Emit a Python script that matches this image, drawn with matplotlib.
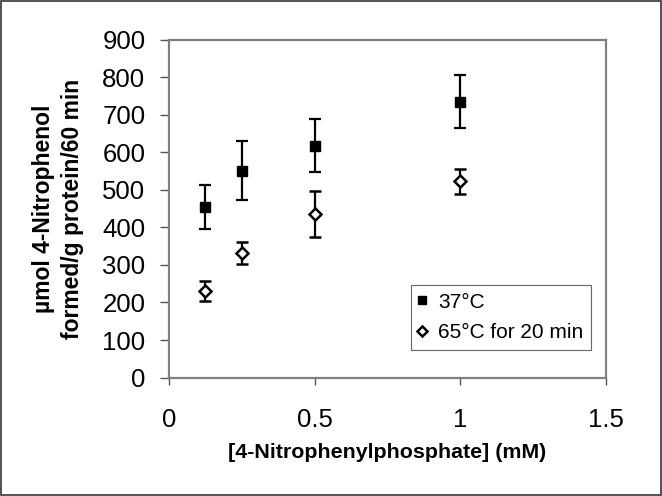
import matplotlib
matplotlib.use("Agg")
import matplotlib.pyplot as plt
from matplotlib.patches import Rectangle

plt.rcParams['font.family'] = ['Liberation Sans', 'DejaVu Sans']

conc = [0.125, 0.25, 0.5, 1.0]

# 37 C
act_37 = [455, 551, 618, 735]
err_37 = [58, 79, 71, 71]

# 65 C for 20 min
act_65 = [231, 332, 436, 523]
err_65 = [27, 30, 61, 34]

labels = ["37°C", "65°C for 20 min"]
x_ticks = [0, 0.5, 1, 1.5]
y_ticks = list(range(0, 901, 100))

fig = plt.figure(figsize=(6.62, 4.96), dpi=100)
ax = fig.add_axes([0.2553, 0.2389, 0.6601, 0.6805])

c1 = ax.errorbar(conc, act_37, yerr=err_37, fmt="s", color="black", ms=6.5,
                 ecolor="black", elinewidth=1.6, capsize=4.5, capthick=1.6)
c2 = ax.errorbar(conc, act_65, yerr=err_65, fmt="D", mfc="white", mec="black",
                 mew=1.8, ms=6, ecolor="black", elinewidth=1.6, capsize=4.5,
                 capthick=1.6)

ax.set_xlim(0, 1.5)
ax.set_ylim(0, 900)
ax.set_xticks(x_ticks)
ax.set_xticklabels(["0", "0.5", "1", "1.5"])
ax.set_yticks(y_ticks)
ax.tick_params(labelsize=18.5, width=1, color="#555555")
ax.tick_params(axis="y", length=6.5, pad=10.5)
ax.tick_params(axis="x", length=5, pad=17)

for s in ax.spines.values():
    s.set_color("#808080")
    s.set_linewidth(1.6)

ax.set_xlabel("[4-Nitrophenylphosphate] (mM)", fontsize=15.4, fontweight="bold",
              labelpad=8)
ax.set_ylabel("µmol 4-Nitrophenol\nformed/g protein/60 min", fontsize=16.5,
              fontweight="bold", labelpad=13, linespacing=1.35)

leg = ax.legend([c1[0], c2[0]], labels, loc="upper left",
                bbox_to_anchor=(0.553, 0.274), borderaxespad=0, fontsize=15,
                numpoints=1, fancybox=False, framealpha=1, edgecolor="#666666",
                handlelength=0.375, handletextpad=0.58, borderpad=0.37,
                labelspacing=0.55, markerscale=0.85)
leg.get_frame().set_linewidth(0.8)

fig.patches.append(Rectangle((0.002, 0.002), 0.996, 0.996, transform=fig.transFigure,
                             fill=False, edgecolor="#333333", linewidth=1.2))

fig.savefig("out.png", dpi=100)
